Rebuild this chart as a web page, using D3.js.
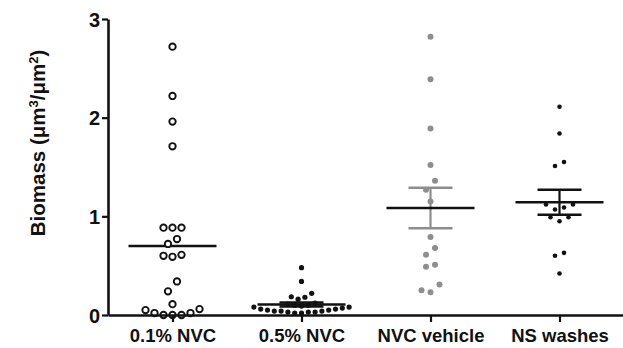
<!DOCTYPE html>
<html><head><meta charset="utf-8">
<script src="https://cdn.jsdelivr.net/npm/d3@7"></script>
<style>
html,body{margin:0;padding:0;background:#fff;}
svg{display:block;}
text{font-family:"Liberation Sans",Arial,sans-serif;font-weight:bold;fill:#111;}
</style></head>
<body>
<svg id="chart" width="623" height="348"></svg>
<script>
const categories = ["0.1% NVC", "0.5% NVC", "NVC vehicle", "NS washes"];
const nvc01 = [2.72, 2.22, 1.96, 1.71, 0.885, 0.885, 0.885, 0.77, 0.72, 0.61, 0.60, 0.59,
               0.34, 0.24, 0.11, 0.06, 0.05, 0.02, 0.02, 0.0, 0.0, 0.0];
const nvc05 = [0.48, 0.34, 0.22, 0.185, 0.18, 0.16, 0.12, 0.11, 0.10, 0.10, 0.09, 0.08, 0.08,
               0.07, 0.06, 0.06, 0.05, 0.05, 0.04, 0.04, 0.04, 0.03, 0.03, 0.03, 0.02, 0.02];
const nvcVehicle = [2.82, 2.39, 1.89, 1.52, 1.36, 1.27, 1.15, 0.79, 0.68, 0.61, 0.51, 0.49, 0.31, 0.25, 0.23];
const nsWashes = [2.11, 1.84, 1.55, 1.51, 1.12, 1.12, 1.09, 1.07, 0.99, 0.99, 0.95, 0.63, 0.60, 0.42];
const yTicks = [0, 1, 2, 3];
const yLabel = "Biomass";

const groups = [
  {name: categories[0], values: nvc01, r: 3.2, fill: "#fff", stroke: "#111", sw: 1.9, spacing: 9, bin: 10, err: false, errColor: "#111"},
  {name: categories[1], values: nvc05, r: 2.6, fill: "#111", stroke: "none", sw: 0, spacing: 6.8, bin: 6, err: true, errColor: "#111"},
  {name: categories[2], values: nvcVehicle, r: 3.0, fill: "#8e8e8e", stroke: "none", sw: 0, spacing: 9, bin: 10, err: true, errColor: "#8e8e8e"},
  {name: categories[3], values: nsWashes, r: 2.3, fill: "#111", stroke: "none", sw: 0, spacing: 9, bin: 10, err: true, errColor: "#111"}
];

const svg = d3.select("#chart");
const y = d3.scaleLinear().domain([0, 3]).range([315, 19]);
const x = d3.scalePoint().domain(categories).range([108, 624]).padding(0.5);

// layout: bin sorted values into rows, spread centre-out
function swarm(values, spacing, binPx) {
  const s = values.slice().sort((a, b) => a - b);
  const bins = [];
  let cur = null;
  s.forEach(v => {
    if (!cur || (y(cur.start) - y(v)) >= binPx) { cur = {start: v, items: []}; bins.push(cur); }
    cur.items.push(v);
  });
  const out = [];
  bins.forEach(b => {
    const k = b.items.length;
    const offs = [];
    if (k % 2 === 1) { offs.push(0); for (let i = 1; offs.length < k; i++) { offs.push(-i); if (offs.length < k) offs.push(i); } }
    else { for (let i = 0; offs.length < k; i++) { offs.push(-(i + 0.5)); offs.push(i + 0.5); } }
    b.items.forEach((v, i) => out.push({v, dx: offs[i] * spacing}));
  });
  return out;
}

const plot = svg.append("g");

groups.forEach(g => {
  const cx = x(g.name);
  const m = d3.mean(g.values);
  const sem = d3.deviation(g.values) / Math.sqrt(g.values.length);
  const eg = plot.append("g");
  if (g.err) {
    eg.append("line").attr("x1", cx).attr("x2", cx).attr("y1", y(m - sem)).attr("y2", y(m + sem))
      .attr("stroke", g.errColor).attr("stroke-width", 2.2);
    [m - sem, m + sem].forEach(v => {
      eg.append("line").attr("x1", cx - 22).attr("x2", cx + 22).attr("y1", y(v)).attr("y2", y(v))
        .attr("stroke", g.errColor).attr("stroke-width", 2.5);
    });
  }
  eg.append("line").attr("x1", cx - 44).attr("x2", cx + 44).attr("y1", y(m)).attr("y2", y(m))
    .attr("stroke", "#111").attr("stroke-width", 2.5);
  plot.append("g").selectAll("circle").data(swarm(g.values, g.spacing, g.bin)).join("circle")
    .attr("cx", d => cx + d.dx).attr("cy", d => y(d.v)).attr("r", g.r)
    .attr("fill", g.fill).attr("stroke", g.stroke).attr("stroke-width", g.sw);
});

// axes
const yAxis = svg.append("g").attr("transform", "translate(108,0)")
  .call(d3.axisLeft(y).tickValues(yTicks).tickFormat(d3.format("d")).tickSize(6).tickSizeOuter(0).tickPadding(2));
const xAxis = svg.append("g").attr("transform", "translate(0,315)")
  .call(d3.axisBottom(x).tickSize(7).tickSizeOuter(0).tickPadding(7));
[yAxis, xAxis].forEach(a => {
  a.select(".domain").attr("stroke", "#111").attr("stroke-width", 2.6);
  a.selectAll(".tick line").attr("stroke", "#111").attr("stroke-width", 2.2);
  a.selectAll("text").attr("fill", "#111").style("font-family", "'Liberation Sans', Arial, sans-serif").style("font-weight", "bold");
});
yAxis.selectAll("text").style("font-size", "20px").attr("dy", "0.36em");
xAxis.selectAll("text").style("font-size", "18.5px").attr("dy", "0.71em");
xAxis.raise(); yAxis.raise();

// y label
const yt = svg.append("text").attr("transform", "translate(45,143) rotate(-90)")
  .attr("text-anchor", "middle").style("font-size", "20.5px");
yt.append("tspan").text(yLabel + " (μm");
yt.append("tspan").attr("baseline-shift", "super").style("font-size", "13px").text("3");
yt.append("tspan").text("/μm");
yt.append("tspan").attr("baseline-shift", "super").style("font-size", "13px").text("2");
yt.append("tspan").text(")");
</script>
</body></html>
